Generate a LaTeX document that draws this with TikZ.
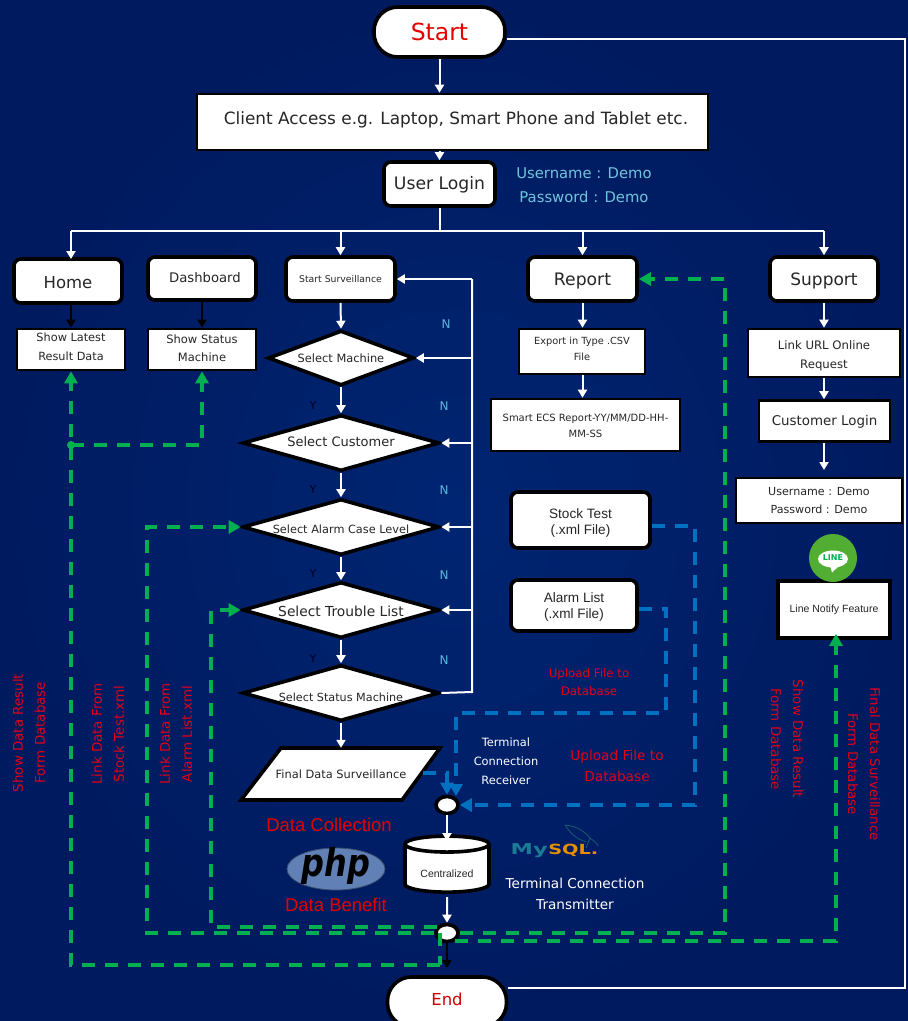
\documentclass[tikz,border=0pt]{standalone}
\usepackage{fontspec}
\setmainfont{DejaVu Sans}
\newfontfamily\hel{Liberation Sans}
\usetikzlibrary{arrows.meta,shapes.geometric,calc}
\newcommand{\fs}[2]{\fontsize{#1}{#2}\selectfont}
\newsavebox\liftbox
\newcommand{\lift}[2]{\sbox\liftbox{\begin{tabular}{@{}c@{}}#2\end{tabular}}\raisebox{#1}[\ht\liftbox][\dp\liftbox]{\usebox\liftbox}}
\definecolor{grn}{HTML}{00B050}
\definecolor{blu}{HTML}{0070C0}
\definecolor{redt}{HTML}{E0001A}
\definecolor{nb}{HTML}{5BB8E0}
\definecolor{lb}{HTML}{72C4DC}
\definecolor{bgi}{HTML}{002572}
\definecolor{bgo}{HTML}{001A5F}
\definecolor{phpc}{HTML}{6181B6}
\definecolor{mya}{HTML}{1C7A94}
\definecolor{myb}{HTML}{E58E00}
\definecolor{linc}{HTML}{52AE32}
\tikzset{
 x=1pt,y=-1pt,
 rbox/.style={draw=black,line width=3.6pt,fill=white,rounded corners=7pt,inner sep=0pt,align=center,text=black!85},
 sbox/.style={draw=black,line width=2.6pt,fill=white,inner sep=0pt,align=center,text=black!85},
 pill/.style={draw=black,line width=3.6pt,fill=white,rounded corners=24pt,inner sep=0pt,align=center},
 dec/.style={diamond,draw=black,line width=3.6pt,fill=white,inner sep=0pt,align=center,text=black!85},
 dot/.style={ellipse,draw=black,line width=3.6pt,fill=white,inner sep=0pt,minimum width=22pt,minimum height=17pt},
 wa/.style={draw=white,line width=2pt,-{Triangle[width=9pt,length=8pt]}},
 wl/.style={draw=white,line width=2pt},
 ka/.style={draw=black,line width=2pt,-{Triangle[width=9pt,length=8pt]}},
 ga/.style={draw=grn,line width=3.4pt,dash pattern=on 13pt off 10pt,-{Triangle[width=13pt,length=12pt,fill=grn]}},
 gl/.style={draw=grn,line width=3.4pt,dash pattern=on 13pt off 10pt},
 ba/.style={draw=blu,line width=3.2pt,dash pattern=on 13pt off 10pt,-{Triangle[width=13pt,length=12pt,fill=blu]}},
 lbl/.style={inner sep=0pt,align=center},
 side/.style={lbl,text=redt,font=\fs{13.4}{22}\selectfont},
}
\begin{document}
\begin{tikzpicture}
\useasboundingbox (0,0) rectangle (908,1021);
\clip (0,0) rectangle (908,1021);
\shade[inner color=bgi,outer color=bgo] (0,0) rectangle (908,1021);

% top
\node[pill,minimum width=131pt,minimum height=50pt,text=red!90!black,font=\fs{23.5}{26}\selectfont] (start) at (439.5,32) {Start};
\node[draw=black,line width=2.6pt,fill=white,inner sep=0pt,minimum width=511pt,minimum height=56pt,font=\fs{16.9}{20}\selectfont,text=black!85] (client) at (452.5,122) {\hspace*{7pt}\lift{2pt}{Client Access e.g. Laptop, Smart Phone and Tablet etc.}};
\node[rbox,minimum width=111pt,minimum height=44pt,font=\fs{17.2}{20}\selectfont] (login) at (439.5,184) {\lift{-1.5pt}{User Login}};
\node[lbl,text=lb,font=\fs{14.8}{24}\selectfont] (cred) at (584,185) {Username : Demo\\Password : Demo};

% row
\node[rbox,minimum width=108pt,minimum height=44pt,font=\fs{16.5}{20}\selectfont] (home) at (68,281) {\lift{-3pt}{Home}};
\node[rbox,minimum width=108pt,minimum height=43pt,font=\fs{13.2}{16}\selectfont] (dash) at (202,278.5) {\hspace*{6pt}\lift{-1pt}{Dashboard}};
\node[rbox,minimum width=109pt,minimum height=44pt,font=\fs{9.3}{12}\selectfont] (ss) at (340.5,279) {\lift{-1pt}{Start Surveillance}};
\node[rbox,minimum width=109pt,minimum height=44pt,font=\fs{17.2}{20}\selectfont] (report) at (582.5,279) {\lift{-2.5pt}{Report}};
\node[rbox,minimum width=108pt,minimum height=44pt,font=\fs{17}{20}\selectfont] (support) at (824,279) {\lift{-2.5pt}{Support}};
\node[sbox,minimum width=108pt,minimum height=41pt,font=\fs{11.3}{19}\selectfont] (latest) at (71,349.5) {\lift{2pt}{Show Latest\\Result Data}};
\node[sbox,minimum width=108pt,minimum height=41pt,font=\fs{11.5}{18}\selectfont] (status) at (202,349.5) {\lift{1pt}{Show Status\\Machine}};
\node[sbox,minimum width=126pt,minimum height=45pt,font=\fs{9.8}{16}\selectfont] (export) at (582,351.5) {\lift{2pt}{Export in Type .CSV\\File}};
\node[sbox,minimum width=189pt,minimum height=52pt,font=\fs{10}{16}\selectfont] (smart) at (585.5,425) {\lift{-1pt}{Smart ECS Report-YY/MM/DD-HH-\\MM-SS}};
\node[sbox,minimum width=152pt,minimum height=48pt,font=\fs{11.7}{19}\selectfont] (url) at (824,353) {\lift{-2pt}{Link URL Online\\Request}};
\node[sbox,minimum width=131pt,minimum height=41pt,font=\fs{13.4}{16}\selectfont] (cust) at (824.5,421) {\lift{-1pt}{Customer Login}};
\node[sbox,minimum width=166pt,minimum height=45pt,font=\fs{11.1}{18}\selectfont] (cred2) at (819,500.5) {Username : Demo\\Password : Demo};

% decisions
\node[dec,shape aspect=2.65,minimum width=146pt,minimum height=55pt,font=\fs{11.4}{14}\selectfont] (d1) at (341,358) {Select Machine};
\node[dec,shape aspect=3.5,minimum width=197pt,minimum height=56pt,font=\fs{13}{14}\selectfont] (d2) at (341,443) {\lift{-1pt}{Select Customer}};
\node[dec,shape aspect=3.5,minimum width=197pt,minimum height=56pt,font=\fs{11.3}{14}\selectfont] (d3) at (341,527) {\lift{-3.5pt}{Select Alarm Case Level}};
\node[dec,shape aspect=3.5,minimum width=197pt,minimum height=56pt,font=\fs{13.8}{14}\selectfont] (d4) at (341,610) {\lift{-3pt}{Select Trouble List}};
\node[dec,shape aspect=3.5,minimum width=197pt,minimum height=56pt,font=\fs{11.2}{14}\selectfont] (d5) at (341,693) {\lift{-6pt}{Select Status Machine}};

% final data
\draw[line width=3.6pt,fill=white,draw=black,line join=miter] (281,748) -- (440,748) -- (402,800) -- (241,800) -- cycle;
\node[lbl,text=black!85,font=\fs{11.4}{14}\selectfont,minimum width=160pt,minimum height=52pt] (final) at (341,774) {Final Data Surveillance};
\node[lbl,text=white,font=\fs{11.4}{19}\selectfont] (rcv) at (506,761) {Terminal\\Connection\\Receiver};

\node[dot] (j1) at (447,805) {};
\node[cylinder,shape border rotate=90,aspect=0.3,draw=black,line width=3.6pt,fill=white,inner sep=0pt,minimum width=84pt,minimum height=56pt,font=\hel\fs{10.5}{13}\selectfont,text=black!85] (db) at (447,869) {\lift{-6pt}{Centralized}};
\node[dot] (j2) at (447,933) {};
\node[pill,minimum width=119pt,minimum height=50pt,text=red!80!black,font=\fs{16.5}{20}\selectfont] (end) at (447,1002) {\lift{1pt}{End}};

% files
\node[rbox,minimum width=139pt,minimum height=56pt,font=\hel\fs{13.6}{16}\selectfont] (stock) at (580.5,520) {\lift{-3pt}{Stock Test\\(.xml File)}};
\node[rbox,minimum width=126pt,minimum height=51pt,font=\hel\fs{13.6}{16}\selectfont] (alarm) at (574,605.5) {\lift{-1.5pt}{Alarm List\\(.xml File)}};
\node[draw=black,line width=3.6pt,fill=white,inner sep=0pt,minimum width=112pt,minimum height=57pt,font=\hel\fs{10.5}{13}\selectfont,text=black!85] (lnf) at (834,609.5) {Line Notify Feature};

% LINE logo
\node[circle,fill=linc,minimum size=48pt,inner sep=0pt] (linec) at (833,558) {};
\fill[white] (833,559) ellipse (15pt and 8.5pt);
\fill[white] (830,565) -- (840,565) -- (832,572.5) -- cycle;
\node[lbl,text=grn,font=\bfseries\fs{8}{10}\selectfont] (linet) at (833,558) {LINE};

% coloured labels
\node[lbl,text=redt,font=\fs{11.8}{18}\selectfont] (up1) at (589,682) {Upload File to\\Database};
\node[lbl,text=redt,font=\fs{13.7}{21}\selectfont] (up2) at (617,766) {Upload File to\\Database};
\node[lbl,text=red!90!black,font=\hel\fs{18.5}{22}\selectfont] (dc) at (329,825) {Data Collection};
\node[lbl,text=red!90!black,font=\hel\fs{18.5}{22}\selectfont] (db2) at (336,905) {Data Benefit};
\node[lbl,text=white,font=\fs{13.6}{21}\selectfont] (tx) at (575,894) {Terminal Connection\\Transmitter};

% PHP logo
\node[ellipse,fill=phpc,inner sep=0pt,minimum width=98pt,minimum height=42pt,draw=phpc!60!black,line width=.8pt] (phpo) at (336,869) {};
\node[lbl,text=black,yscale=1.2,font=\bfseries\itshape\fs{32}{34}\selectfont] (phpt) at (336,866) {php};

% MySQL logo
\node[lbl,anchor=east,text=mya,xscale=1.5,font=\bfseries\fs{15}{16}\selectfont] (my) at (548,851) {My};
\node[lbl,anchor=west,text=myb,xscale=1.38,font=\bfseries\fs{14}{16}\selectfont] (sql) at (548,850) {SQL.};
\draw[mya!75!black,line width=.8pt] (565,825) .. controls (578,826) and (586,833) .. (590,838) .. controls (594,841) and (597,843) .. (598,846)
  (565,825) .. controls (570,832) and (574,838) .. (586,842)
  (590,838) -- (586,848);

% white connectors
\draw[wa] (start.south -| login) -- (client.north -| login);
\draw[wa] (client.south -| login) -- (login.north);
\coordinate (bus) at (login.south |- 0,231);
\draw[wl] (login.south) -- (bus);
\coordinate (busl) at (71,231);
\coordinate (busr) at (824,231);
\draw[wl] (busl) -- (busr);
\draw[wa] (busl) -- (71,259);
\draw[wa] (ss.north |- busl) -- (ss.north);
\draw[wa] (report.north |- busl) -- (report.north);
\draw[wa] (busr) -- (support.north);
\draw[wa] (ss.south) -- (d1.north);
\draw[wa] (d1.south) -- (d2.north);
\draw[wa] (d2.south) -- (d3.north);
\draw[wa] (d3.south) -- (d4.north);
\draw[wa] (d4.south) -- (d5.north);
\draw[wa] (d5.south) -- (final.north);
\draw[wa] (j1.south) -- (db.south |- 0,841);
\draw[wa] (db.north |- 0,897) -- (j2.north);
\draw[wa] (report.south) -- (export.north -| report);
\draw[wa] (export.south -| report) -- (smart.north -| report);
\draw[wa] (support.south) -- (url.north);
\draw[wa] (url.south) -- (cust.north -| url);
\draw[wa] (cust.south -| url) -- (824,470);
% feedback
\coordinate (fbt) at (472,279);
\coordinate (fbb) at (472,692);
\draw[wl] (d5.east) -- (fbb) -- (fbt);
\draw[wa] (fbt) -- (ss.east);
\draw[wa] (472,358) -- (d1.east);
\draw[wa] (472,443) -- (d2.east);
\draw[wa] (472,527) -- (d3.east);
\draw[wa] (472,610) -- (d4.east);
% start-end
\coordinate (sr) at (905,39);
\coordinate (er) at (905,988);
\draw[draw=white,line width=1.6pt] (start.east |- sr) -- (sr) -- (er) -- (end.east |- er);
% black
\draw[ka] (home.south -| latest) -- (latest.north);
\draw[ka] (dash.south) -- (status.north);
\draw[ka] (j2.south) -- (447,968);

% green
\coordinate (gd) at (71,445);
\coordinate (ge) at (71,965);
\coordinate (gf) at (440,965);
\draw[gl] (j2.west -| gf) -- (gf);
\draw[ga] (gf) -- (ge) -- (latest.south);
\draw[ga] (gd) -- (status.south |- gd) -- (status.south);
\fill[grn] (gd) circle (4pt);
\coordinate (gb) at (147,933);
\draw[ga] (j2.west) -- (gb) -- (gb |- d3.west) -- (d3.west);
\coordinate (gc) at (211,927);
\draw[ga] (437,927) -- (gc) -- (gc |- d4.west) -- (d4.west);
\coordinate (gr) at (725,933);
\draw[ga] (j2.east) -- (gr) -- (gr |- report.east) -- (report.east);
\coordinate (gl1) at (836,941);
\draw[ga] (455,941) -- (gl1) -- ($(lnf.south -| gl1)+(0,-6)$);
% blue
\coordinate (bs) at (695,526);
\coordinate (bs2) at (695,805);
\draw[ba] (stock.east |- bs) -- (bs) -- (bs2) -- (j1.east);
\coordinate (ba1) at (666,609);
\coordinate (ba2) at (666,713);
\coordinate (ba3) at (456,713);
\draw[ba] (alarm.east |- ba1) -- (ba1) -- (ba2) -- (ba3) -- (456,796);
\coordinate (bf) at (447,773);
\draw[ba] (423,773) -- (bf) -- (j1.north);

% Y / N
\foreach \n/\x/\y in {y1/313/405,y2/313/489,y3/313/573,y4/313/658}
  \node[lbl,text=black!85!blue,font=\fs{11}{12}\selectfont] (\n) at (\x,\y) {Y};
\foreach \n/\x/\y in {n1/446/324,n2/444/406,n3/444/490,n4/444/575,n5/444/660}
  \node[lbl,text=nb,font=\fs{12}{12}\selectfont] (\n) at (\x,\y) {N};

% rotated
\node[side,rotate=90] (s1) at (29,733) {Show Data Result\\Form Database};
\node[side,rotate=90] (s2) at (108,734) {Link Data From\\Stock Test.xml};
\node[side,rotate=90] (s3) at (176,734) {Link Data From\\Alarm List.xml};
\node[side,rotate=-90] (s4) at (787,739) {Show Data Result\\Form Database};
\node[side,rotate=-90] (s5) at (864,764) {Final Data Surveillance\\Form Database};
\end{tikzpicture}
\end{document}
